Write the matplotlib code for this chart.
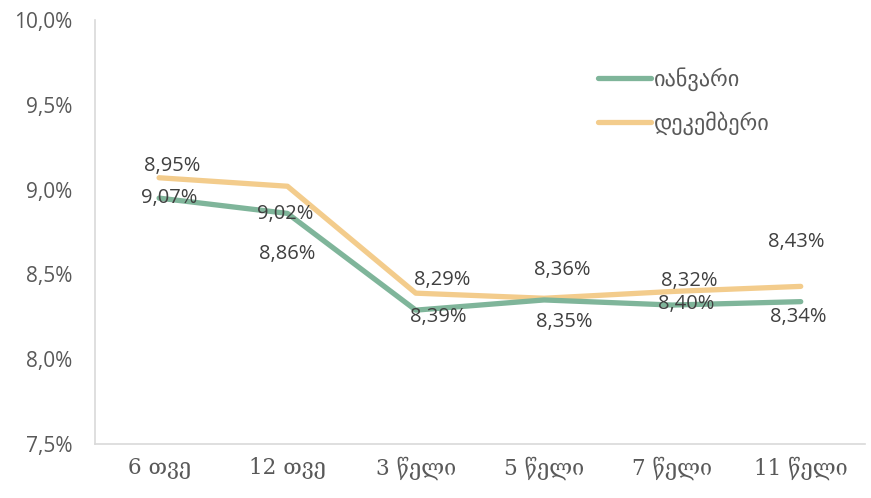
import numpy as np
import matplotlib
matplotlib.use("Agg")
import matplotlib.pyplot as plt
from matplotlib.ticker import FuncFormatter

# data
categories = ["6 თვე", "12 თვე", "3 წელი", "5 წელი", "7 წელი", "11 წელი"]
january = [8.95, 8.86, 8.29, 8.35, 8.32, 8.34]
december = [9.07, 9.02, 8.39, 8.36, 8.40, 8.43]
series_names = ["იანვარი", "დეკემბერი"]

# label offsets in pixels (as placed in the original)
jan_off = [(13, 32), (0, -41), (26, 30), (20, -22), (17, 24), (-2, -15)]
dec_off = [(10, -20), (-2, -28), (22, -24), (18, 28), (14, -13), (-4, 44)]

green = "#7fb59a"
yellow = "#f3cc8c"
txt = "#404040"
tick_col = "#595959"

fig = plt.figure(figsize=(8.71, 4.98), dpi=100)
ax = fig.add_axes([0.109, 0.108, 0.884, 0.852])

x = np.arange(len(categories))
ax.plot(x, january, color=green, lw=3.8, solid_capstyle="round", label=series_names[0], zorder=3)
ax.plot(x, december, color=yellow, lw=3.8, solid_capstyle="round", label=series_names[1], zorder=2)

for i in range(len(x)):
    ax.annotate("{:.2f}%".format(january[i]).replace(".", ","), (x[i], january[i]),
                xytext=jan_off[i], textcoords="offset pixels", ha="center", va="center",
                fontsize=14.5, color=txt, family="Open Sans", zorder=5)
    ax.annotate("{:.2f}%".format(december[i]).replace(".", ","), (x[i], december[i]),
                xytext=dec_off[i], textcoords="offset pixels", ha="center", va="center",
                fontsize=14.5, color=txt, family="Open Sans", zorder=5)

ax.set_xlim(-0.5, len(categories) - 0.5)
ax.set_ylim(7.5, 10.0)
ax.set_yticks([7.5, 8.0, 8.5, 9.0, 9.5, 10.0])
ax.yaxis.set_major_formatter(FuncFormatter(lambda v, p: "{:.1f}%".format(v).replace(".", ",")))
ax.set_xticks(x)
ax.set_xticklabels(categories, family="DejaVu Serif", fontsize=15.5, color=tick_col)
for t in ax.get_yticklabels():
    t.set_family("Open Sans")
    t.set_fontsize(15)
    t.set_color(tick_col)
ax.tick_params(length=0)
ax.tick_params(axis="x", pad=9)
ax.tick_params(axis="y", pad=16)

for s in ["top", "right"]:
    ax.spines[s].set_visible(False)
ax.spines["left"].set_color("#d9d9d9")
ax.spines["bottom"].set_color("#d9d9d9")
ax.spines["left"].set_linewidth(1.2)
ax.spines["bottom"].set_linewidth(1.2)

leg = ax.legend(loc="upper left", bbox_to_anchor=(0.627, 0.935), frameon=False,
                handlelength=2.4, handletextpad=0.15, labelspacing=0.9,
                prop={"family": "DejaVu Sans", "size": 16})
for t in leg.get_texts():
    t.set_color(tick_col)

fig.savefig("out.png", dpi=100)
